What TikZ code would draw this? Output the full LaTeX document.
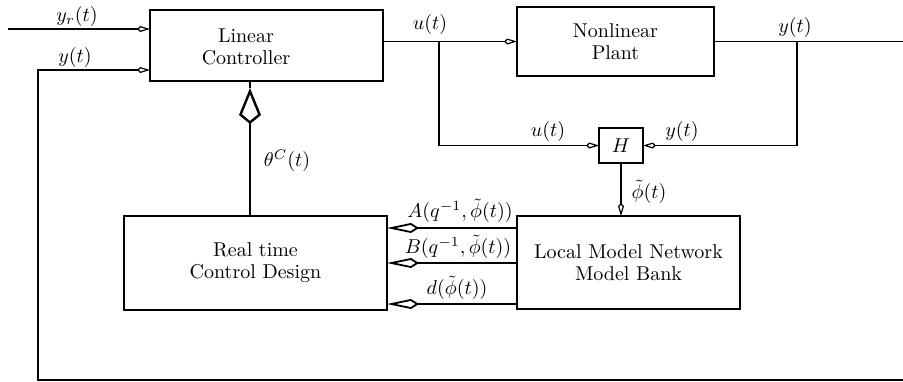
\documentclass[tikz,border=0pt]{standalone}
\usetikzlibrary{arrows.meta,calc}
\begin{document}
\begin{tikzpicture}[x=0.5pt,y=-0.5pt,
  font=\fontsize{10}{11}\selectfont,
  wire/.style={line width=0.6pt},
  blockbox/.style={draw,line width=0.6pt,inner sep=0pt,outer sep=0pt,align=center},
  inarrow/.style={wire,-{Kite[open,length=6.5pt,width=3pt,line width=0.6pt]}},
  widearrow/.style={line width=0.9pt,-{Kite[open,length=16pt,width=5pt,line width=0.9pt]}},
  paramarrow/.style={line width=1.4pt,-{Kite[open,length=18pt,width=11pt,line width=1.2pt]}},
  lbl/.style={inner sep=0pt}]
\useasboundingbox (0,0) rectangle (903,381);

% blocks
\node[blockbox,minimum width=116.5pt,minimum height=35.5pt] (lc) at (266.5,45.5) {};
\node[align=center,inner sep=0pt] (lctext) at (246,47) {Linear\\Controller};
\node[blockbox,minimum width=98.5pt,minimum height=34.5pt] (plant) at (615.5,41.5) {Nonlinear\\Plant};
\node[blockbox,minimum width=22pt,minimum height=17.5pt] (H) at (621,145.5) {$H$};
\node[blockbox,minimum width=131.5pt,minimum height=47pt] (rt) at (255.5,263) {Real time\\Control Design};
\node[blockbox,minimum width=111.5pt,minimum height=46.5pt] (lm) at (628.5,262.5) {Local Model Network\\Model Bank};

% helper coordinates for line ends and branch points
\coordinate (yrin) at (8,29);
\coordinate (yfb) at (0,70);
\coordinate (fbR) at (903,380);
\coordinate (fbL) at (38,380);
\coordinate (yout) at (903,41.5);
\coordinate (us) at (439,0);
\coordinate (ys) at (797,0);
\coordinate (thx) at (250,0);
\coordinate (ay) at (0,228);
\coordinate (by) at (0,263);
\coordinate (dy) at (0,304);

% controller inputs
\draw[inarrow] (yrin) -- (yrin -| lc.west);
\draw[inarrow] (fbR) -- (fbL) -- (fbL |- yfb) -- (lc.west |- yfb);

% control signal to plant and to H
\draw[inarrow] (lc.east |- plant.west) -- (plant.west);
\draw[inarrow] (us |- plant.west) -- (us |- H.west) -- (H.west);

% plant output and branch to H
\draw[wire] (plant.east) -- (yout);
\draw[inarrow] (ys |- plant.east) -- (ys |- H.east) -- (H.east);

% scheduling vector
\draw[inarrow] (H.south) -- (H.south |- lm.north);

% model parameters to design block
\draw[widearrow] (lm.west |- ay) -- (rt.east |- ay);
\draw[widearrow] (lm.west |- by) -- (rt.east |- by);
\draw[widearrow] (lm.west |- dy) -- (rt.east |- dy);

% controller parameters
\draw[paramarrow] (rt.north -| thx) -- ($(lc.south -| thx)+(0,7)$);
\draw[line width=1.4pt] ($(lc.south -| thx)+(0,7)$) -- (lc.south -| thx);

% labels
\node[lbl] (lyr) at (77,16) {$y_r(t)$};
\node[lbl] (lyin) at (75,57) {$y(t)$};
\node[lbl] (lu) at (430,24) {$u(t)$};
\node[lbl] (ly) at (795,27) {$y(t)$};
\node[lbl] (luh) at (548,131) {$u(t)$};
\node[lbl] (lyh) at (682,131) {$y(t)$};
\node[lbl] (lphi) at (649,192) {$\tilde{\phi}(t)$};
\node[lbl] (lth) at (287,161) {$\theta^{C}(t)$};
\node[lbl] (lA) at (460,211) {$A(q^{-1},\tilde{\phi}(t))$};
\node[lbl] (lB) at (458,247) {$B(q^{-1},\tilde{\phi}(t))$};
\node[lbl] (ld) at (457,288) {$d(\tilde{\phi}(t))$};
\end{tikzpicture}
\end{document}
